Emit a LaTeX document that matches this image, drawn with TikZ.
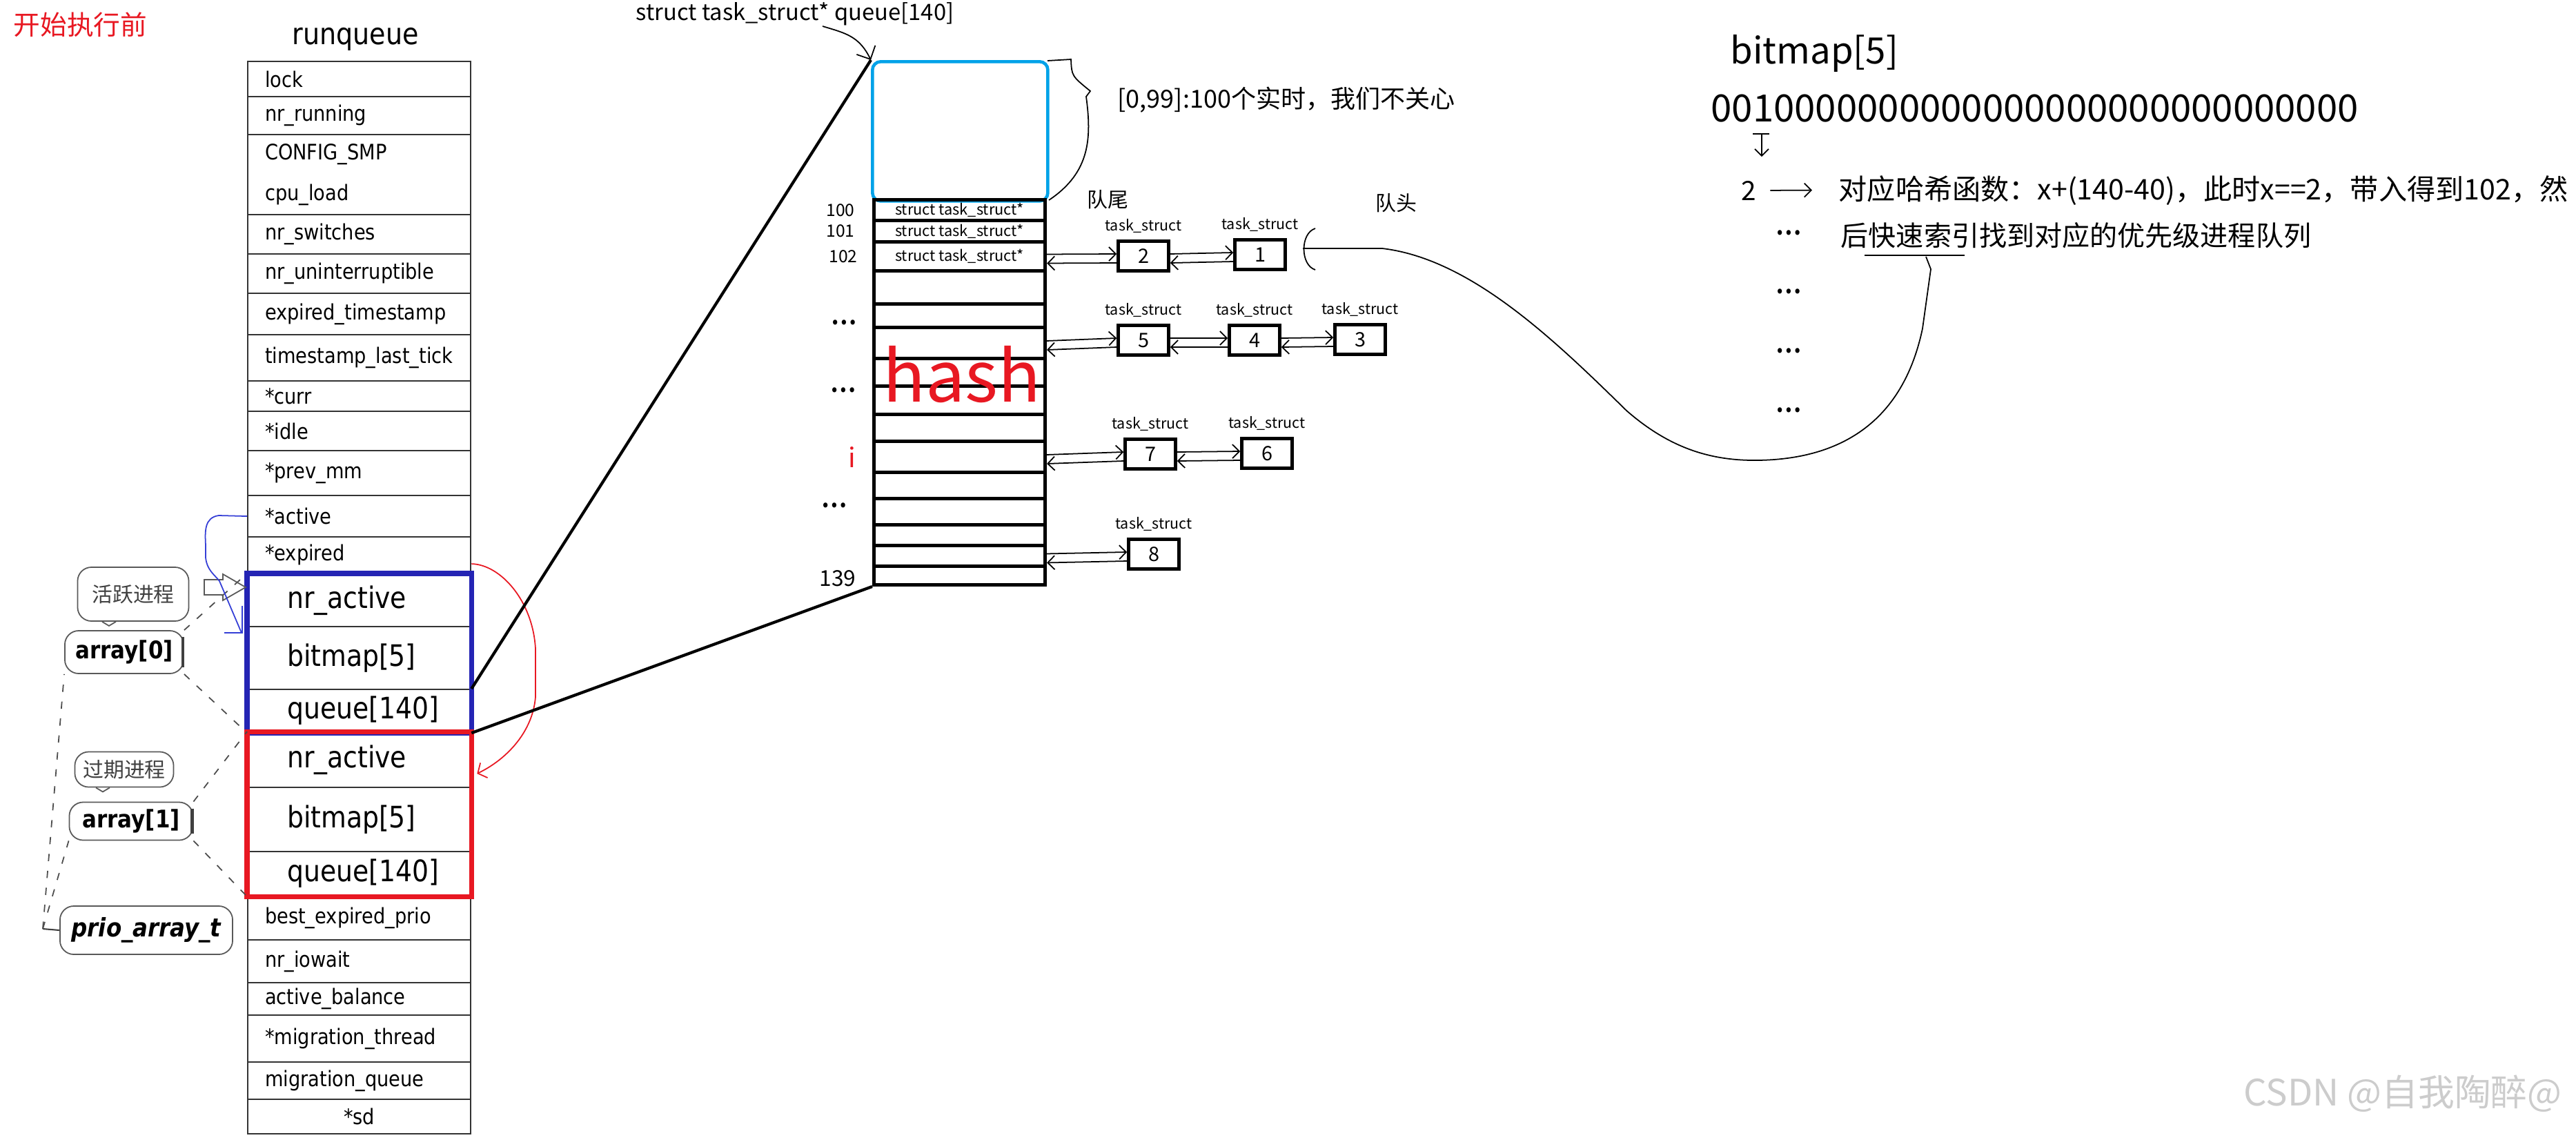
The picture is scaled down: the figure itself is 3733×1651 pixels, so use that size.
\documentclass[tikz,border=0pt]{standalone}
\usepackage{fontspec}
\setmainfont{Noto Sans CJK SC}
\newfontfamily\rqfont[FakeStretch=0.88]{DejaVu Sans}
\usetikzlibrary{arrows.meta}
\definecolor{boxblue}{RGB}{36,36,180}
\definecolor{penblue}{RGB}{52,62,214}
\definecolor{penred}{RGB}{232,24,34}
\definecolor{rtcyan}{RGB}{0,162,232}

\begin{document}
\begin{tikzpicture}[x=0.01cm, y=-0.01cm,
    cell/.style={draw=black!80, line width=0.6pt, anchor=north west, minimum width=32.3mm,
        inner xsep=2.5mm, inner ysep=0pt, text width=27.3mm, align=left,
        font=\rqfont\fontsize{8.8}{10.5}\selectfont},
    big cell/.style={cell, inner xsep=5.7mm, text width=20.9mm,
        font=\rqfont\fontsize{12.2}{14}\selectfont},
    slot/.style={draw, line width=1.4pt, anchor=north west, minimum width=24.8mm,
        inner sep=0pt, font=\fontsize{6.2}{7}\selectfont},
    task/.style={draw, line width=1.3pt, minimum width=7.3mm, minimum height=4.3mm,
        inner sep=0pt, font=\fontsize{8.2}{9}\selectfont,
        label={[font=\fontsize{6.1}{7}\selectfont, inner sep=0.5mm, label distance=0.4mm]above:task\_struct}},
    link/.style={line width=0.5pt, -{Straight Barb[length=1mm, width=2mm]}},
    pen/.style={line width=0.5pt},
    note/.style={draw=black!65, line width=0.5pt, rounded corners=2mm, inner sep=0pt},
    dash line/.style={black!70, line width=0.5pt, dash pattern=on 3pt off 4pt},
    heavy/.style={line width=1.2pt},
    idx/.style={font=\fontsize{7}{8}\selectfont, inner sep=0pt},
    dots/.style={font=\rqfont\fontsize{7}{8}\selectfont, inner sep=0pt}
]
    \fill[white] (0,0) rectangle (3733,1651);
    \useasboundingbox (0,0) rectangle (3733,1651);

    % 标题与 runqueue 表
    \node[text=penred, font=\fontsize{11}{12}\selectfont, anchor=west, inner sep=0pt] (title) at (19,36) {开始执行前};
    \node[font=\rqfont\fontsize{12.3}{14}\selectfont, anchor=base, inner sep=0pt] (rqname) at (515,64) {runqueue};
    \foreach \ya/\yb/\name/\txt in {88/139/lock/lock, 139/194/nrrun/nr\_running,
        194/310/smp/{CONFIG\_SMP\\[2.2mm]cpu\_load}, 310/367/nrsw/nr\_switches,
        367/424/nrun/nr\_uninterruptible, 424/484/expts/expired\_timestamp,
        484/551/lasttick/timestamp\_last\_tick, 551/595/curr/*curr, 595/652/idle/*idle,
        652/717/prevmm/*prev\_mm, 717/777/active/*active, 777/829/expired/*expired,
        1297/1361/bestexp/best\_expired\_prio, 1361/1423/iowait/nr\_iowait,
        1423/1470/balance/active\_balance, 1470/1538/migthread/*migration\_thread,
        1538/1592/migqueue/migration\_queue}{
        \pgfmathsetmacro\h{(\yb-\ya)/10}
        \node[cell, minimum height=\h mm] (\name) at (358,\ya) {\txt};
    }
    \node[cell, align=center, minimum height=5mm] (sd) at (358,1592) {*sd};

    % 两个 prio_array
    \foreach \ya/\yb/\name/\txt in {831/907/anr/nr\_active, 907/998/abmp/{bitmap[5]},
        998/1060/aq/{queue[140]}, 1060/1140/enr/nr\_active, 1140/1233/ebmp/{bitmap[5]},
        1233/1297/eq/{queue[140]}}{
        \pgfmathsetmacro\h{(\yb-\ya)/10}
        \node[big cell, minimum height=\h mm] (\name) at (358,\ya) {\txt};
    }
    \draw[boxblue, line width=2pt] (anr.north west) rectangle (aq.south east);
    \draw[penred, line width=2pt] (enr.north west) rectangle (eq.south east);

    % 左侧注释
    \node[note, minimum width=16.1mm, minimum height=7.8mm, text=black!75,
        font=\fontsize{8.5}{9}\selectfont] (act) at (193,861) {活跃进程};
    \draw[black!65, line width=0.5pt] ([xshift=-4.5mm]act.south) -- ++(10,6) -- ++(10,-6);
    \node[note, minimum width=17.2mm, minimum height=6.2mm,
        font=\rqfont\bfseries\fontsize{10}{11}\selectfont] (a0) at (180,945) {array[0]};
    \draw[black!75, line width=1.2pt] ([shift={(-0.2mm,-1mm)}]a0.north east) -- ([shift={(-0.2mm,1mm)}]a0.south east);
    \node[note, minimum width=14.3mm, minimum height=5.1mm, text=black!75,
        font=\fontsize{8.5}{9}\selectfont] (exp) at (180,1115) {过期进程};
    \draw[black!65, line width=0.5pt] ([xshift=-4.1mm]exp.south) -- ++(10,6) -- ++(10,-6);
    \node[note, minimum width=17.9mm, minimum height=5.5mm,
        font=\rqfont\bfseries\fontsize{10}{11}\selectfont] (a1) at (190,1190) {array[1]};
    \draw[black!75, line width=1.2pt] ([shift={(-0.2mm,-1mm)}]a1.north east) -- ([shift={(-0.2mm,1mm)}]a1.south east);
    \node[note, minimum width=25mm, minimum height=7mm,
        font=\rqfont\bfseries\itshape\fontsize{10.5}{12}\selectfont] (prio) at (212,1348) {prio\_array\_t};
    \coordinate (br) at (62,1346);
    \draw[black!75, line width=0.6pt] (br) -- (prio.west);
    \draw[dash line] (br) -- (a0.south west);
    \draw[dash line] (br) -- (a1.south west);
    \draw[dash line] (a0.north east) -- (anr.north west);
    \draw[dash line] (a0.south east) -- (aq.south west);
    \draw[dash line] (a1.north east) -- (enr.north west);
    \draw[dash line] (a1.south east) -- (eq.south west);
    \draw[black!65, line width=0.5pt] (296,840) -- (323,840) -- (323,832) -- (356,851)
        -- (323,870) -- (323,862) -- (296,862) -- cycle;

    % 手绘指针
    \draw[penblue, pen] (active.west) -- (317,747) .. controls (296,750) and (297,770) .. (298,790)
        -- (298,808) .. controls (300,826) and (310,832) .. (318,842)
        -- ([shift={(-0.8mm,-1mm)}]abmp.north west);
    \draw[penblue, pen] ([shift={(-0.7mm,2.9mm)}]abmp.north west) -- ([shift={(-0.7mm,-1mm)}]abmp.north west)
        -- ([shift={(-3.3mm,-1mm)}]abmp.north west);
    \draw[penred, pen, -{Straight Barb[length=1mm, width=2.4mm]}] ([yshift=-1.3mm]expired.east)
        .. controls (725,818) and (772,870) .. (776,940) -- (776,1010)
        .. controls (772,1060) and (735,1100) .. ([shift={(0.8mm,-2mm)}]enr.east);

    % queue[140] 数组
    \node[draw=rtcyan, line width=1.3pt, rounded corners=1.2mm, anchor=north west,
        minimum width=25.4mm, minimum height=20.2mm, inner sep=0pt] (rt) at (1262,87) {};
    \foreach \ya/\yb/\txt [count=\k] in {287/317/{struct task\_struct*}, 317/348/{struct task\_struct*},
        348/390/{struct task\_struct*}, 390/438/{}, 438/472/{}, 472/517/{}, 517/557/{},
        557/598/{}, 598/637/{}, 637/682/{}, 682/720/{}, 720/758/{}, 758/788/{},
        788/818/{}, 818/845/{}}{
        \pgfmathsetmacro\h{(\yb-\ya)/10}
        \node[slot, minimum height=\h mm] (q-\k) at (1264,\ya) {\txt};
    }
    \draw[heavy] (aq.north east) -- (rt.north west);
    \draw[heavy] (aq.south east) -- (q-15.south west);

    \node[font=\fontsize{9.3}{11}\selectfont, anchor=base, inner sep=0pt] (hdr) at (1152,29) {struct task\_struct* queue[140]};
    \draw[pen, -{Straight Barb[length=1.5mm, width=3mm]}] ([shift={(4mm,-0.9mm)}]hdr.base)
        .. controls (1225,48) and (1245,52) .. (rt.north west);
    \node[font=\fontsize{10.25}{12}\selectfont, anchor=west, inner sep=0pt] (rtnote) at (1619,145) {[0,99]:100个实时，我们不关心};
    \draw[pen] (1518,88) -- (1552,86) .. controls (1553,110) .. (1580,132) -- (1574,140)
        .. controls (1582,200) and (1580,250) .. (1520,290);

    \node[idx] (n100) at (1218,305) {100};
    \node[idx] (n101) at (1218,335) {101};
    \node[idx] (n102) at (1222,372) {102};
    \node[idx, font=\fontsize{9}{10}\selectfont] (n139) at (1214,838) {139};
    \node[text=penred, font=\fontsize{11}{12}\selectfont, inner sep=0pt, anchor=base] (ni) at (1235,677) {i};
    \foreach \x/\y [count=\k] in {1223/470, 1222/568, 1209/735}
        \node[dots] (ldots-\k) at (\x,\y) {•••};
    \node[text=penred, font=\fontsize{29}{30}\selectfont, inner sep=0pt, anchor=base] (hash) at (1394,582) {hash};

    % task_struct 链表
    \node[font=\fontsize{8.5}{9}\selectfont, inner sep=0pt] (tail) at (1605,289) {队尾};
    \node[font=\fontsize{8.5}{9}\selectfont, inner sep=0pt] (head) at (2023,294) {队头};
    \node[task] (b2) at (1657,371) {2};
    \node[task] (b1) at (1826,369) {1};
    \node[task] (b5) at (1657,493) {5};
    \node[task] (b4) at (1818,493) {4};
    \node[task] (b3) at (1971,492) {3};
    \node[task] (b7) at (1667,658) {7};
    \node[task] (b6) at (1836,657) {6};
    \node[task] (b8) at (1672,803) {8};
    \foreach \a/\b in {q-3/b2, b2/b1, q-6/b5, b5/b4, b4/b3, q-10/b7, b7/b6, q-14/b8}{
        \draw[link] ([yshift=0.3mm]\a.east) -- ([yshift=0.3mm]\b.west);
        \draw[link] ([yshift=-1mm]\b.west) -- ([yshift=-1mm]\a.east);
    }

    % bitmap 与哈希函数
    \node[font=\fontsize{15}{16}\selectfont, anchor=base west, inner sep=0pt] (bm) at (2507,92) {bitmap[5]};
    \node[font=\fontsize{15.5}{16}\selectfont, anchor=base west, inner sep=0pt] (bits) at (2479,176) {0010000000000000000000000000000};
    \coordinate (bit1) at (2553,194);
    \draw[pen] (2540,194) -- (2564,194);
    \node[font=\fontsize{11}{12}\selectfont, anchor=base, inner sep=0pt] (idx2) at (2534,290) {2};
    \draw[link] (bit1) -- ([yshift=3.4mm]bit1 |- idx2.north);
    \node[font=\fontsize{11.7}{13}\selectfont, anchor=base west, inner sep=0pt] (fn1) at (2664,289) {对应哈希函数：x+(140-40)，此时x==2，带入得到102，然};
    \node[font=\fontsize{11.4}{13}\selectfont, anchor=base west, inner sep=0pt] (fn2) at (2667,356) {后快速索引找到对应的优先级进程队列};
    \draw[link] ([xshift=2mm]idx2.east) -- ([xshift=-3.8mm]fn1.west);
    \draw[pen] (2702,370) -- (2847,370);
    \coordinate (ul) at (2791,372);
    \foreach \y [count=\k] in {340,425,511,597}
        \node[dots] (rdots-\k) at (2592,\y) {•••};

    % 队头指向快速索引
    \coordinate (hd) at (1888,360);
    \draw[pen] (1906,331) .. controls (1884,338) and (1884,384) .. (1906,391);
    \draw[pen] (hd) -- (2003,360) .. controls (2130,375) and (2250,490) .. (2357,595)
        .. controls (2420,650) and (2480,668) .. (2548,667)
        .. controls (2680,665) and (2760,600) .. (2786,476) -- (2798,390) -- (ul);

    \node[text=black!20, font=\fontsize{15}{16}\selectfont, inner sep=0pt] (mark) at (3482,1585) {CSDN @自我陶醉@};
\end{tikzpicture}
\end{document}
